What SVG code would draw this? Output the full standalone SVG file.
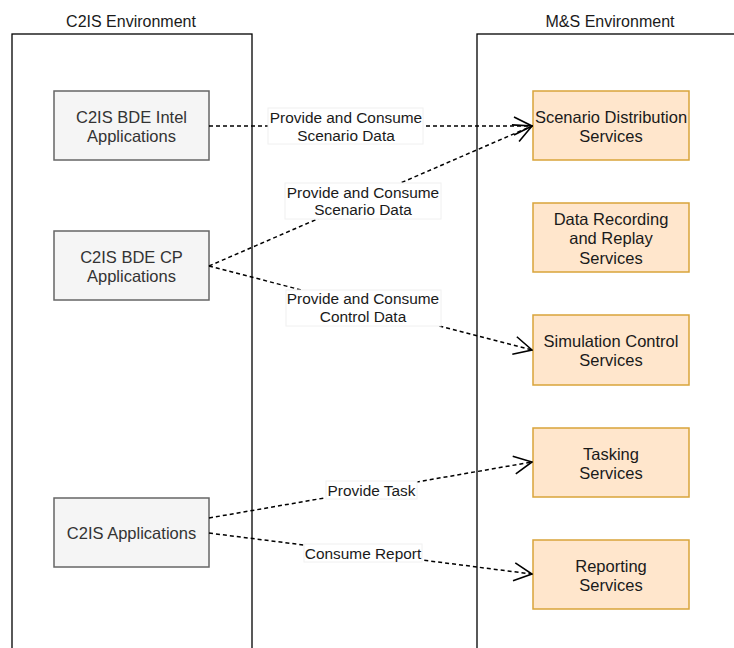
<svg xmlns="http://www.w3.org/2000/svg" width="734" height="648" viewBox="0 0 734 648">
<style>
text{font-family:"Liberation Sans",Arial,sans-serif;font-size:16.5px;text-anchor:middle;dominant-baseline:central}
.container{fill:none;stroke:#000;stroke-width:1.3}
.title{fill:#1a1a1a;font-size:16px}
.gray rect{fill:#f5f5f5;stroke:#666;stroke-width:1.5}
.gray text{fill:#333}
.orange rect{fill:#ffe6cc;stroke:#d9a43a;stroke-width:1.5}
.orange text{fill:#1a1a1a}
.edge{fill:none;stroke:#000;stroke-width:1.5;stroke-dasharray:4 3;marker-end:url(#open)}
.lblbg{fill:#fff;stroke:#f0f0f0;stroke-width:1}
.lbl{fill:#1a1a1a;font-size:15.4px}
</style>
<defs>
<marker id="open" viewBox="0 0 20 20" refX="19" refY="10" markerWidth="20" markerHeight="20" markerUnits="userSpaceOnUse" orient="auto">
<path d="M1,1 L19,10 L1,19" fill="none" stroke="#000" stroke-width="1.6"/>
</marker>
</defs>
<rect width="734" height="648" fill="#fff"/>
<g id="c2is-env">
<rect class="container" x="12" y="34" width="240" height="640"/>
<text class="title" x="131" y="21">C2IS Environment</text>
</g>
<g id="ms-env">
<rect class="container" x="477" y="34" width="280" height="640"/>
<text class="title" x="610" y="21">M&amp;S Environment</text>
</g>
<g id="n-intel" class="gray">
<rect x="54" y="91" width="155" height="69"/>
<text x="131.5" y="116.5">C2IS BDE Intel</text>
<text x="131.5" y="135.5">Applications</text>
</g>
<g id="n-cp" class="gray">
<rect x="54" y="231" width="155" height="69"/>
<text x="131.5" y="256.5">C2IS BDE CP</text>
<text x="131.5" y="275.5">Applications</text>
</g>
<g id="n-apps" class="gray">
<rect x="54" y="498" width="155" height="69"/>
<text x="131.5" y="533">C2IS Applications</text>
</g>
<g id="n-scen" class="orange">
<rect x="533" y="91" width="156" height="69"/>
<text x="611" y="116.5">Scenario Distribution</text>
<text x="611" y="135.5">Services</text>
</g>
<g id="n-rec" class="orange">
<rect x="533" y="203" width="156" height="69"/>
<text x="611" y="218.5">Data Recording</text>
<text x="611" y="238">and Replay</text>
<text x="611" y="257.5">Services</text>
</g>
<g id="n-sim" class="orange">
<rect x="533" y="315" width="156" height="70"/>
<text x="611" y="340.5">Simulation Control</text>
<text x="611" y="359.5">Services</text>
</g>
<g id="n-task" class="orange">
<rect x="533" y="428" width="156" height="69"/>
<text x="611" y="453.5">Tasking</text>
<text x="611" y="472.5">Services</text>
</g>
<g id="n-rep" class="orange">
<rect x="533" y="540" width="156" height="69"/>
<text x="611" y="565.5">Reporting</text>
<text x="611" y="584.5">Services</text>
</g>
<g id="connectors">
<path class="edge" d="M209,126 L532,126"/>
<path class="edge" d="M209,266 L532,126"/>
<path class="edge" d="M209,266 L532,350"/>
<path class="edge" d="M209,518 L532,462"/>
<path class="edge" d="M209,533 L532,574"/>
<rect class="lblbg" x="268" y="108" width="155" height="36"/>
<text class="lbl" x="346" y="117.5">Provide and Consume</text>
<text class="lbl" x="346" y="135.5">Scenario Data</text>
<rect class="lblbg" x="285" y="183" width="156" height="36"/>
<text class="lbl" x="363" y="192">Provide and Consume</text>
<text class="lbl" x="363" y="209.5">Scenario Data</text>
<rect class="lblbg" x="286" y="290" width="155" height="36"/>
<text class="lbl" x="363" y="298.5">Provide and Consume</text>
<text class="lbl" x="363" y="316.5">Control Data</text>
<rect class="lblbg" x="326" y="481" width="91" height="18"/>
<text class="lbl" x="371.5" y="490">Provide Task</text>
<rect class="lblbg" x="304" y="544" width="118" height="18"/>
<text class="lbl" x="363" y="553">Consume Report</text>
</g>
</svg>
